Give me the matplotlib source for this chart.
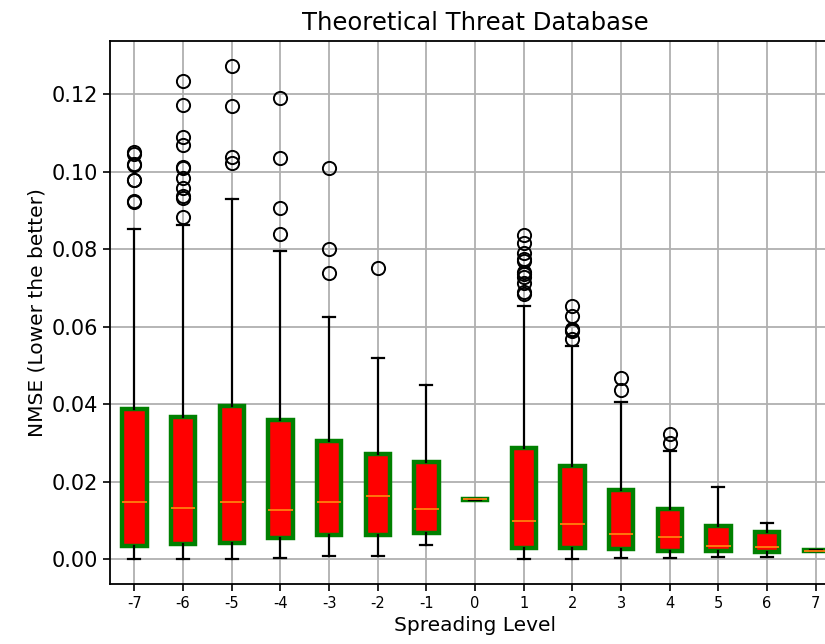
import matplotlib
matplotlib.use("Agg")
import matplotlib.pyplot as plt

levels = [-7, -6, -5, -4, -3, -2, -1, 0, 1, 2, 3, 4, 5, 6, 7]
tick_labels = [str(v) for v in levels]

q1 = [0.00327, 0.00387, 0.00412, 0.00533, 0.00626, 0.00626, 0.00678, 0.0153,
      0.00276, 0.00284, 0.00265, 0.00198, 0.00206, 0.00173, 0.00205]
median = [0.01461, 0.01323, 0.01477, 0.01271, 0.01461, 0.01632, 0.01289, 0.01539,
          0.00987, 0.00902, 0.00636, 0.00575, 0.00343, 0.00318, 0.00214]
q3 = [0.03874, 0.03678, 0.0396, 0.03582, 0.0305, 0.0270, 0.02508, 0.0155,
      0.02869, 0.02389, 0.0177, 0.0128, 0.0085, 0.00688, 0.00222]
whisker_low = [0.0, 0.0, 0.0001, 0.00026, 0.00077, 0.00077, 0.00353, 0.0153,
               0.0, 0.0, 0.0002, 0.00026, 0.0006, 0.0005, 0.00205]
whisker_high = [0.0852, 0.0863, 0.0930, 0.0796, 0.0625, 0.0520, 0.0449, 0.0155,
                0.0653, 0.0549, 0.0405, 0.0278, 0.01864, 0.0092, 0.00222]
outliers = [
    [0.1050, 0.1045, 0.1020, 0.1017, 0.0979, 0.0977, 0.0924, 0.0922],
    [0.1233, 0.1172, 0.1088, 0.1069, 0.1011, 0.1009, 0.0983, 0.0957, 0.0938, 0.0931, 0.0884],
    [0.1272, 0.1169, 0.1037, 0.1021],
    [0.1189, 0.1036, 0.0907, 0.0839],
    [0.1009, 0.0799, 0.0739],
    [0.0751],
    [],
    [],
    [0.0837, 0.0816, 0.0790, 0.0775, 0.0768, 0.0742, 0.0735, 0.0728, 0.0712, 0.0690, 0.0683],
    [0.0652, 0.0626, 0.0595, 0.0590, 0.0588, 0.0567],
    [0.0466, 0.0436],
    [0.0324, 0.0300],
    [],
    [],
    [],
]

stats = []
for i in range(len(levels)):
    stats.append(dict(med=median[i], q1=q1[i], q3=q3[i], whislo=whisker_low[i],
                      whishi=whisker_high[i], fliers=outliers[i], label=tick_labels[i]))

fig = plt.figure(figsize=(8.25, 6.44), dpi=100)
ax = fig.add_axes([110 / 825, 60 / 644, 730 / 825, 543 / 644])

ax.bxp(stats, positions=levels, widths=0.5, patch_artist=True,
       boxprops=dict(facecolor='red', edgecolor='green', linewidth=3.2),
       medianprops=dict(color='#ff7f0e', linewidth=1.3),
       whiskerprops=dict(color='black', linewidth=1.6),
       capprops=dict(color='black', linewidth=1.6),
       flierprops=dict(marker='o', markerfacecolor='none', markeredgecolor='black',
                       markersize=9.5, markeredgewidth=1.4))

ax.set_xlim(-7.5, 7.5)
ax.set_ylim(-0.00644, 0.1337)
ax.set_xticks(levels)
ax.set_xticklabels(tick_labels, fontsize=10.5)
ax.set_yticks([0.0, 0.02, 0.04, 0.06, 0.08, 0.10, 0.12])
ax.set_yticklabels(['0.00', '0.02', '0.04', '0.06', '0.08', '0.10', '0.12'], fontsize=15)
ax.grid(True, color='#b0b0b0', linewidth=1.3)
ax.set_axisbelow(True)
ax.tick_params(width=1.2, length=5)
for s in ax.spines.values():
    s.set_linewidth(1.3)

ax.set_xlabel('Spreading Level', fontsize=14.5, labelpad=4)
ax.set_ylabel('NMSE (Lower the better)', fontsize=14.5)
ax.set_title('Theoretical Threat Database', fontsize=17.5, pad=8)

fig.savefig('out.png', dpi=100)
